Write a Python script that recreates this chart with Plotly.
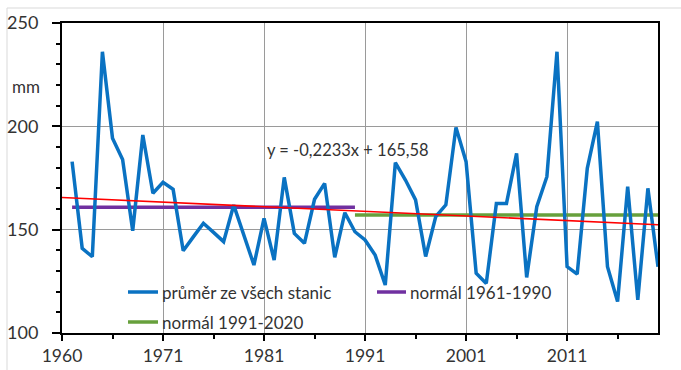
import plotly.graph_objects as go

# ---- data ----
years = list(range(1961, 2020))
values = [182.9, 141.0, 136.9, 236.1, 194.2, 184.0, 149.5, 195.8, 167.6, 172.9,
          169.5, 139.8, 146.5, 153.1, 148.7, 144.2, 161.9, 147.4, 132.9, 155.5,
          135.3, 175.3, 148.2, 143.4, 164.7, 172.4, 136.6, 158.2, 149.0, 145.0,
          137.7, 123.2, 182.4, 174.0, 164.4, 137.0, 156.3, 162.0, 199.5, 182.9,
          128.9, 124.0, 162.7, 162.7, 186.9, 126.9, 161.1, 175.6, 236.1, 132.1,
          128.5, 179.7, 202.3, 132.1, 115.2, 170.8, 116.0, 170.0, 132.1]
normal_6190_x = [1961, 1989]
normal_6190_y = [160.8, 160.8]
normal_9120_x = [1989, 2019]
normal_9120_y = [157.1, 157.1]
trend_slope = -0.2233
trend_icept = 165.58
trend_x = [1960, 2019]
trend_y = [trend_icept + trend_slope * (x - 1960) for x in trend_x]

x_tickvals = [1960, 1970, 1980, 1990, 2000, 2010]
x_ticktext = ["1960", "1971", "1981", "1991", "2001", "2011"]
y_tickvals = [100, 150, 200, 250]

legend_names = ["průměr ze všech stanic", "normál 1961-1990", "normál 1991-2020"]
equation_text = "y = -0,2233x + 165,58"
unit_text = "mm"

BLUE = "#0a72c2"
PURPLE = "#7030a0"
GREEN = "#67a03c"
RED = "#ff0000"
FONT = "Lato"
TXT = "#333333"

W, H = 681, 370
L, R, T, B = 62, 23, 23, 37
PW, PH = W - L - R, H - T - B

def px(xp):
    return (xp - L) / PW

def py(yp):
    return (H - B - yp) / PH

fig = go.Figure()
fig.add_trace(go.Scatter(x=normal_6190_x, y=normal_6190_y, mode="lines",
                         line=dict(color=PURPLE, width=3.5), showlegend=False))
fig.add_trace(go.Scatter(x=normal_9120_x, y=normal_9120_y, mode="lines",
                         line=dict(color=GREEN, width=3.5), showlegend=False))
fig.add_trace(go.Scatter(x=years, y=values, mode="lines",
                         line=dict(color=BLUE, width=3.5), showlegend=False))
fig.add_trace(go.Scatter(x=trend_x, y=trend_y, mode="lines",
                         line=dict(color=RED, width=1.6), showlegend=False))

# manual legend (samples + labels)
legend_items = [
    (legend_names[0], BLUE, 128, 158, 292),
    (legend_names[1], PURPLE, 377, 406, 292),
    (legend_names[2], GREEN, 128, 158, 322),
]
shapes = []
annotations = []
for name, col, x0, x1, yy in legend_items:
    shapes.append(dict(type="line", xref="paper", yref="paper",
                       x0=px(x0), x1=px(x1), y0=py(yy), y1=py(yy),
                       line=dict(color=col, width=3.5)))
    annotations.append(dict(text=name, xref="paper", yref="paper",
                            x=px(x1 + 2), y=py(yy), xanchor="left", yanchor="middle",
                            showarrow=False, font=dict(family=FONT, size=17, color=TXT)))

annotations.append(dict(text=equation_text, xref="paper", yref="paper",
                        x=px(265), y=py(150), xanchor="left", yanchor="middle",
                        showarrow=False, font=dict(family=FONT, size=16.5, color=TXT)))
annotations.append(dict(text=unit_text, xref="paper", yref="paper",
                        x=px(42), y=py(86), xanchor="right", yanchor="middle",
                        showarrow=False, font=dict(family=FONT, size=17, color=TXT)))

# light outer chart border (top/left visible)
shapes.append(dict(type="rect", xref="paper", yref="paper", layer="below",
                   x0=px(7), x1=px(700), y0=py(8), y1=py(400),
                   line=dict(color="#d9d9d9", width=1)))

fig.update_layout(
    width=W, height=H,
    margin=dict(l=L, r=R, t=T, b=B, pad=0, autoexpand=False),
    paper_bgcolor="white", plot_bgcolor="white",
    showlegend=False,
    shapes=shapes, annotations=annotations,
    font=dict(family=FONT, size=18, color=TXT),
)
fig.update_xaxes(
    range=[1960, 2019], tickmode="array", tickvals=x_tickvals, ticktext=x_ticktext,
    showgrid=True, gridcolor="#9a9a9a", gridwidth=1,
    showline=True, linecolor="black", linewidth=2, mirror=True,
    ticks="outside", ticklen=6, tickcolor="black", tickwidth=1.5,
    minor=dict(tickvals=[1965, 1975, 1985, 1995, 2005, 2015], ticks="outside",
               ticklen=4, tickcolor="black", tickwidth=1.5, showgrid=False),
    tickfont=dict(family=FONT, size=17.5, color=TXT),
    ticklabelstandoff=0, zeroline=False, automargin=False,
)
fig.update_yaxes(
    range=[100, 250], tickmode="array", tickvals=y_tickvals,
    showgrid=True, gridcolor="#9a9a9a", gridwidth=1,
    showline=True, linecolor="black", linewidth=2, mirror=True,
    ticks="outside", ticklen=8, tickcolor="black", tickwidth=1.5,
    minor=dict(dtick=10, tick0=100, ticks="outside", ticklen=4,
               tickcolor="black", tickwidth=1.5, showgrid=False),
    tickfont=dict(family=FONT, size=18, color=TXT),
    ticklabelstandoff=10, zeroline=False, automargin=False,
)

fig.write_html("out.html")
